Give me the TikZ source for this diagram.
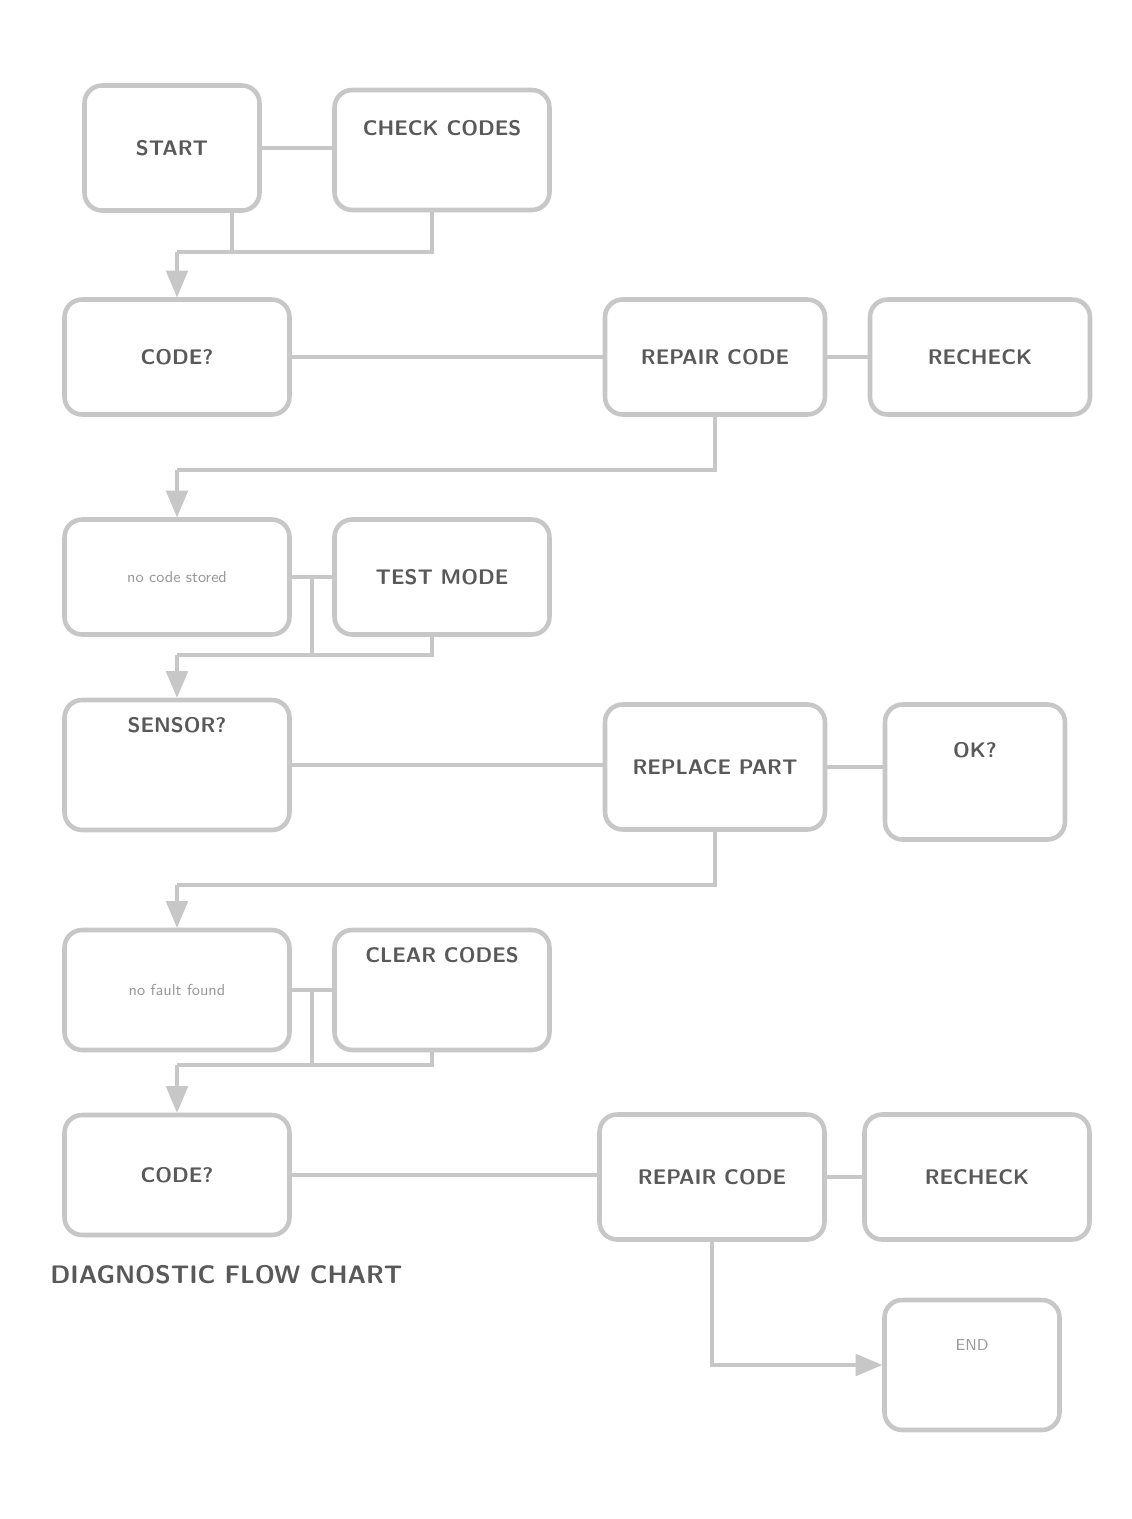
\documentclass[tikz,border=0pt]{standalone}
\usepackage{tikz}
\usetikzlibrary{arrows,shapes,positioning,calc}
\newcommand{\inners}{4pt}
\newcommand{\lines}{2.6pt}

\begin{document}
\begin{tikzpicture}[x=0.02cm,y=-0.02cm]
            \tikzset{BoxStyle/.style = {draw=black!22, line width=\lines, rounded corners=10pt,
                     inner sep=\inners, font=\sffamily\bfseries\large, text=black!65, align=center}}
            \tikzset{LightStyle/.style = {font=\sffamily\small, text=black!40}}
            \tikzset{EdgeStyle/.style = {draw=black!22, line width=\lines}}
            \tikzset{ArrowStyle/.style = {EdgeStyle, -triangle 45}}
            \useasboundingbox (0,0) rectangle (1132,1519);
            \node[BoxStyle, minimum width=3.5cm, minimum height=2.5cm] (A1) at (172,148) {START};
            \node[BoxStyle, minimum width=4.3cm, minimum height=2.4cm, text depth=0.9cm] (A2) at (442,150) {CHECK CODES};
            \node[BoxStyle, minimum width=4.5cm, minimum height=2.3cm] (B1) at (177,357) {CODE?};
            \node[BoxStyle, minimum width=4.4cm, minimum height=2.3cm] (C1) at (715,357) {REPAIR CODE};
            \node[BoxStyle, minimum width=4.4cm, minimum height=2.3cm] (C2) at (980,357) {RECHECK};
            \node[BoxStyle, LightStyle, minimum width=4.5cm, minimum height=2.3cm] (D1) at (177,577) {no code stored};
            \node[BoxStyle, minimum width=4.3cm, minimum height=2.3cm] (D2) at (442,577) {TEST MODE};
            \node[BoxStyle, minimum width=4.5cm, minimum height=2.6cm, text depth=1.6cm] (E1) at (177,765) {SENSOR?};
            \node[BoxStyle, minimum width=4.4cm, minimum height=2.5cm] (F1) at (715,767) {REPLACE PART};
            \node[BoxStyle, minimum width=3.6cm, minimum height=2.7cm, text depth=0.9cm] (F2) at (975,772) {OK?};
            \node[BoxStyle, LightStyle, minimum width=4.5cm, minimum height=2.4cm] (G1) at (177,990) {no fault found};
            \node[BoxStyle, minimum width=4.3cm, minimum height=2.4cm, text depth=1.4cm] (G2) at (442,990) {CLEAR CODES};
            \node[BoxStyle, minimum width=4.5cm, minimum height=2.4cm] (H1) at (177,1175) {CODE?};
            \node[BoxStyle, minimum width=4.5cm, minimum height=2.5cm] (I1) at (712,1177) {REPAIR CODE};
            \node[BoxStyle, minimum width=4.5cm, minimum height=2.5cm] (I2) at (977,1177) {RECHECK};
            \node[BoxStyle, LightStyle, minimum width=3.5cm, minimum height=2.6cm, text depth=0.8cm] (J) at (972,1365) {END};
            \node[font=\sffamily\bfseries\Large, text=black!65, anchor=west, inner sep=0pt] (cap) at (50,1275) {DIAGNOSTIC FLOW CHART};
            \coordinate (m1) at (177,252);
            \coordinate (m2) at (177,470);
            \coordinate (m3) at (177,655);
            \coordinate (m4) at (177,885);
            \coordinate (m5) at (177,1065);
            \draw[EdgeStyle] (A1.east) -- (A1.east -| A2.west);
            \draw[EdgeStyle] ($(A1.south)+(60,0)$) |- (m1);
            \draw[EdgeStyle] ($(A2.south)+(-10,0)$) |- (m1);
            \draw[ArrowStyle] (m1) -- (B1.north);
            \draw[EdgeStyle] (B1) -- (C1);
            \draw[EdgeStyle] (C1) -- (C2);
            \draw[EdgeStyle] (C1.south) |- (m2);
            \draw[ArrowStyle] (m2) -- (D1.north);
            \draw[EdgeStyle] (D1) -- (D2) coordinate[midway] (d12);
            \draw[EdgeStyle] (d12) |- (m3);
            \draw[EdgeStyle] ($(D2.south)+(-10,0)$) |- (m3);
            \draw[ArrowStyle] (m3) -- (E1.north);
            \draw[EdgeStyle] (E1.east) -- (E1.east -| F1.west);
            \draw[EdgeStyle] (F1.east) -- (F1.east -| F2.west);
            \draw[EdgeStyle] (F1.south) |- (m4);
            \draw[ArrowStyle] (m4) -- (G1.north);
            \draw[EdgeStyle] (G1) -- (G2) coordinate[midway] (g12);
            \draw[EdgeStyle] (g12) |- (m5);
            \draw[EdgeStyle] ($(G2.south)+(-10,0)$) |- (m5);
            \draw[ArrowStyle] (m5) -- (H1.north);
            \draw[EdgeStyle] (H1.east) -- (H1.east -| I1.west);
            \draw[EdgeStyle] (I1) -- (I2);
            \draw[ArrowStyle] (I1.south) |- (J.west);
        \end{tikzpicture}
\end{document}
